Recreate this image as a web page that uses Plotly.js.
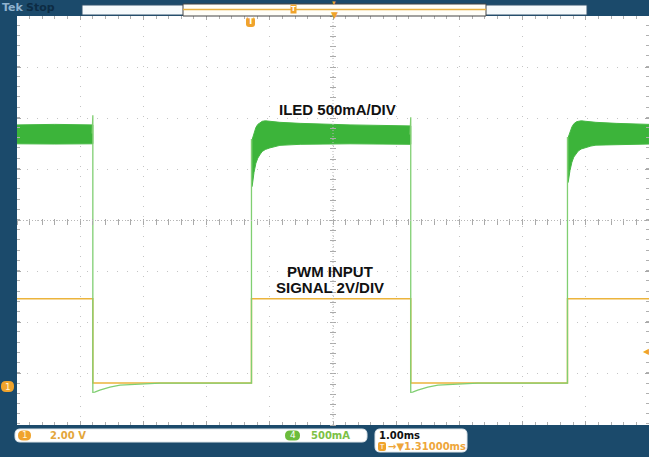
<!DOCTYPE html>
<html><head><meta charset="utf-8">
<script src="https://cdn.plot.ly/plotly-3.0.1.min.js"></script>
<style>html,body{margin:0;padding:0;background:#1b4a6b;overflow:hidden}#chart{width:649px;height:457px}</style>
</head><body><div id="chart"></div>
<script>
// ---------------- data (time in ms, 1 ms/div) ----------------
// Channel 1: PWM input signal (V), 2 V/div
const pwmTime  = [0, 1.20, 1.20, 3.71, 3.71, 6.23, 6.23, 8.71, 8.71, 10];
const pwmVolts = [3.3, 3.3, 0, 0, 3.3, 3.3, 0, 0, 3.3, 3.3];

// Channel 4: ILED (mA), 500 mA/div — edges and off-time
const iledEdgeTime = [1.19, 1.20, 1.20, 1.23, 1.31, 1.47, 1.63, 1.95, 2.26, 3.71, 3.71, 3.72, null,
                      6.22, 6.23, 6.23, 6.26, 6.34, 6.50, 6.66, 6.98, 7.29, 8.71, 8.71, 8.72];
const iledEdgeMA   = [2440, 2620, -90, -88, -68, -39, -20, -10, 0, 0, 2380, 2380, null,
                      2430, 2600, -90, -88, -68, -39, -20, -10, 0, 0, 2400, 2400];

// Channel 4: ILED on-time ripple envelope (mA)
const band1Time  = [0, 0.6, 1.20];
const band1Upper = [2525, 2530, 2525];
const band1Lower = [2340, 2338, 2340];

const band2Time  = [3.72, 3.75, 3.78, 3.81, 3.85, 3.88, 3.93, 4.00, 4.08, 4.16, 4.48, 5.27, 6.23];
const band2Upper = [2380, 2450, 2500, 2530, 2550, 2560, 2565, 2560, 2555, 2550, 2540, 2525, 2515];
const band2Lower = [1920, 2060, 2150, 2200, 2240, 2265, 2285, 2300, 2315, 2325, 2335, 2340, 2335];

const band3Time  = [8.72, 8.75, 8.78, 8.81, 8.85, 8.88, 8.93, 9.00, 9.08, 9.16, 9.48, 10.0];
const band3Upper = [2400, 2460, 2505, 2535, 2555, 2560, 2565, 2560, 2555, 2550, 2540, 2530];
const band3Lower = [1960, 2080, 2160, 2210, 2245, 2270, 2290, 2305, 2318, 2327, 2335, 2338];

// axis settings (8 vertical divs, 10 horizontal divs)
const timeRange = [0, 10];
const voltRange = [-1.64, 14.36];   // 2 V/div
const ampRange  = [-410, 3590];     // 500 mA/div
const triggerOffsetLabel = '1.31000ms';

// --------------- build ---------------
const GREEN_BAND = '#3cb43a', GREEN_LINE = '#80cf72', YELLOW = '#ecb43c', ORANGE = '#f0a32c';
function bandTrace(t, up, lo) {
  return {x: t.concat(t.slice().reverse()), y: up.concat(lo.slice().reverse()),
    xaxis: 'x', yaxis: 'y2', mode: 'lines', fill: 'toself', fillcolor: GREEN_BAND,
    line: {color: '#45b843', width: 1}, hoverinfo: 'skip', showlegend: false};
}
const traces = [
  bandTrace(band1Time, band1Upper, band1Lower),
  bandTrace(band2Time, band2Upper, band2Lower),
  bandTrace(band3Time, band3Upper, band3Lower),
  {x: iledEdgeTime, y: iledEdgeMA, xaxis: 'x', yaxis: 'y2', mode: 'lines',
   line: {color: GREEN_LINE, width: 1.3}, connectgaps: false, showlegend: false},
  {x: pwmTime, y: pwmVolts, xaxis: 'x', yaxis: 'y', mode: 'lines',
   line: {color: YELLOW, width: 1.5}, showlegend: false},
  {x: [], y: [], xaxis: 'x2', yaxis: 'y', showlegend: false, hoverinfo: 'skip'},
  {x: [], y: [], xaxis: 'x', yaxis: 'y3', showlegend: false, hoverinfo: 'skip'}
];

// pixel -> paper helpers for screen decorations
const L = 17, T = 16, W = 632, H = 409;
const px = x => (x - L) / W, py = y => (T + H - y) / H;
function rrect(x0, y0, x1, y1, r) {
  const rx = r / W, ry = r / H;
  const a = px(x0), b = px(x1), c = py(y0), d = py(y1);
  return `M${a+rx},${c} L${b-rx},${c} Q${b},${c} ${b},${c-ry} L${b},${d+ry} Q${b},${d} ${b-rx},${d} ` +
         `L${a+rx},${d} Q${a},${d} ${a},${d+ry} L${a},${c-ry} Q${a},${c} ${a+rx},${c} Z`;
}
const shapes = [
  // header bar
  {type:'rect', xref:'paper', yref:'paper', x0:px(82), x1:px(587), y0:py(5), y1:py(15), fillcolor:'#f6fafc', line:{color:'#30526e', width:1}},
  {type:'rect', xref:'paper', yref:'paper', x0:px(183), x1:px(486), y0:py(4), y1:py(16), fillcolor:'#fffef8', line:{color:'#444', width:1}},
  {type:'line', xref:'paper', yref:'paper', x0:px(183), x1:px(486), y0:py(9.5), y1:py(9.5), line:{color:'#e8b040', width:1.5}},
  // centre cross
  {type:'line', xref:'paper', yref:'paper', x0:0, x1:1, y0:0.5, y1:0.5, line:{color:'#b8b8b8', width:1, dash:'1px,2px'}},
  {type:'line', xref:'paper', yref:'paper', x0:0.5, x1:0.5, y0:0, y1:1, line:{color:'#b8b8b8', width:1, dash:'1px,2px'}},
  // bottom info boxes
  {type:'path', xref:'paper', yref:'paper', path: rrect(15, 429, 367, 442, 5), fillcolor:'#ffffff', line:{color:'#dfe6ea', width:1}},
  {type:'path', xref:'paper', yref:'paper', path: rrect(375, 429, 467, 452, 5), fillcolor:'#ffffff', line:{color:'#dfe6ea', width:1}},
  {type:'path', xref:'paper', yref:'paper', path: rrect(18, 430.5, 31, 440.5, 5), fillcolor:ORANGE, line:{width:0}},
  {type:'path', xref:'paper', yref:'paper', path: rrect(285, 430.5, 300, 440.5, 5), fillcolor:'#6cbc3c', line:{width:0}},
  {type:'path', xref:'paper', yref:'paper', path: rrect(378, 442, 386, 451, 2), fillcolor:ORANGE, line:{width:0}},
  // channel 1 ground marker on left
  {type:'path', xref:'paper', yref:'paper', path: rrect(1, 381, 14, 392, 5), fillcolor:ORANGE, line:{width:0}},
  // trigger position marker below header
  {type:'path', xref:'paper', yref:'paper', path: rrect(246, 17, 255, 27, 3), fillcolor:ORANGE, line:{width:0}}
];
const ann = (x, y, text, o) => Object.assign({xref:'paper', yref:'paper', x:px(x), y:py(y), text, showarrow:false,
  xanchor:'left', yanchor:'middle', font:{family:'DejaVu Sans', size:10, color:'#000'}}, o || {});
const annotations = [
  ann(337, 109, '<b>ILED 500mA/DIV</b>', {xanchor:'center', font:{family:'Liberation Sans', size:15, color:'#111'}}),
  ann(330, 271, '<b>PWM INPUT</b>', {xanchor:'center', font:{family:'Liberation Sans', size:15, color:'#111'}}),
  ann(330, 287, '<b>SIGNAL 2V/DIV</b>', {xanchor:'center', font:{family:'Liberation Sans', size:15, color:'#111'}}),
  ann(0, 8, '<b>Tek</b>', {font:{family:'DejaVu Sans', size:11, color:'#8fb3cf'}}),
  ann(24, 8, '<b>Stop</b>', {font:{family:'DejaVu Sans', size:11, color:'#0d2c44'}}),
  ann(293, 9.5, '<b>T</b>', {xanchor:'center', bgcolor:ORANGE, borderpad:0, font:{family:'DejaVu Sans', size:7, color:'#fff'}}),
  ann(334, 15, '▼', {xanchor:'center', font:{size:9, color:ORANGE}}),
  ann(334, 3, '▾', {xanchor:'center', font:{size:7, color:ORANGE}}),
  ann(250.5, 22, '<b>T</b>', {xanchor:'center', font:{family:'DejaVu Sans', size:8, color:'#fff'}}),
  ann(646, 351, '◀', {xanchor:'center', font:{size:8, color:ORANGE}}),
  ann(7.5, 386.5, '1', {xanchor:'center', font:{family:'DejaVu Sans', size:9, color:'#fff4d8'}}),
  ann(24.5, 435.5, '1', {xanchor:'center', font:{family:'DejaVu Sans', size:9, color:'#fff4d8'}}),
  ann(48, 435.5, '<b>2.00 V</b>', {font:{family:'DejaVu Sans', size:10, color:'#e3a63a'}}),
  ann(292.5, 435.5, '4', {xanchor:'center', font:{family:'DejaVu Sans', size:9, color:'#ffffff'}}),
  ann(309, 435.5, '<b>500mA</b>', {font:{family:'DejaVu Sans', size:10, color:'#7cc146'}}),
  ann(377, 435.5, '<b>1.00ms</b>', {font:{family:'DejaVu Sans', size:10, color:'#111'}}),
  ann(382, 446.5, 'T', {xanchor:'center', font:{family:'DejaVu Sans', size:7, color:'#fff'}}),
  ann(386, 447, '<b>→▼' + triggerOffsetLabel + '</b>', {font:{family:'DejaVu Sans', size:10, color:'#eea63a'}})
];

const gridCommon = {showticklabels:false, zeroline:false, showline:false, showgrid:true,
  gridcolor:'#c4c4c4', griddash:'1px,9px', gridwidth:1, ticks:'inside', ticklen:4, tickcolor:'#a8a8a8', mirror:'ticks'};
const layout = {
  width:649, height:457, autosize:false,
  margin:{l:L, r:0, t:T, b:457 - T - H, pad:0},
  paper_bgcolor:'#1b4a6b', plot_bgcolor:'#ffffff', showlegend:false,
  font:{family:'DejaVu Sans'},
  xaxis: Object.assign({}, gridCommon, {range:timeRange, dtick:1, tick0:0,
    minor:{dtick:0.2, ticks:'inside', ticklen:3, tickcolor:'#b0b0b0', showgrid:false}}),
  yaxis: Object.assign({}, gridCommon, {range:voltRange, dtick:2, tick0:0.36,
    minor:{dtick:0.4, ticks:'inside', ticklen:3, tickcolor:'#b0b0b0', showgrid:false}}),
  yaxis2: {overlaying:'y', range:ampRange, showgrid:false, zeroline:false, showticklabels:false, ticks:'', showline:false},
  xaxis2: {overlaying:'x', anchor:'free', position:0.5 + 3 / H, range:timeRange, dtick:0.2, tick0:0,
    ticks:'outside', ticklen:6, tickcolor:'#aaaaaa', showticklabels:false, showgrid:false, zeroline:false, showline:false},
  yaxis3: {overlaying:'y', anchor:'free', position:0.5 + 3 / W, range:voltRange, dtick:0.4, tick0:0.36,
    ticks:'outside', ticklen:6, tickcolor:'#aaaaaa', showticklabels:false, showgrid:false, zeroline:false, showline:false},
  shapes, annotations
};
Plotly.newPlot('chart', traces, layout, {displayModeBar:false, staticPlot:true});
</script></body></html>
